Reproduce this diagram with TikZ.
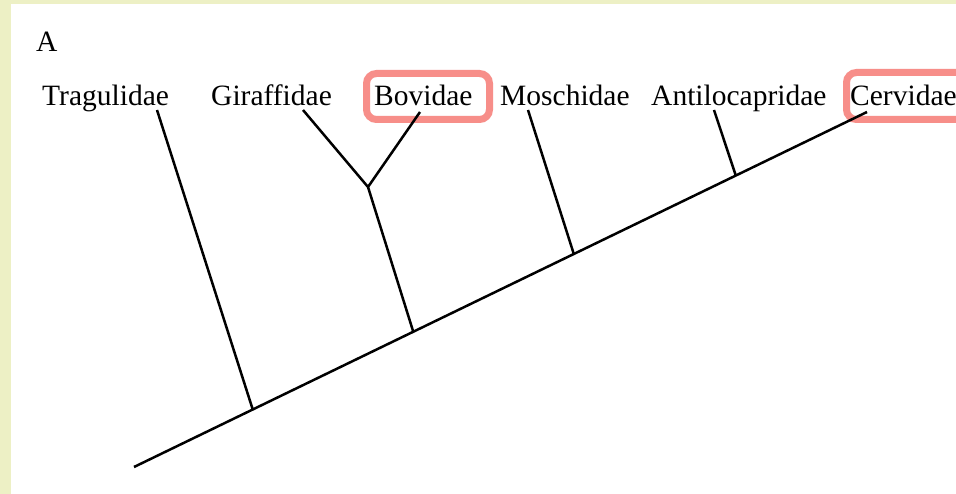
\documentclass[tikz,border=0pt]{standalone}
\usepackage{fontspec}
\setmainfont{Liberation Serif}
\usepackage{xcolor}
\usetikzlibrary{calc}
\definecolor{panelbg}{RGB}{237,240,197}
\definecolor{markred}{RGB}{247,142,137}

\begin{document}
\begin{tikzpicture}[x=1pt,y=-1pt,
  taxon/.style={font=\fontsize{29.5}{32}\selectfont,anchor=base west,inner sep=0pt},
  branch/.style={line width=2.5pt,black},
  hlbox/.style={draw=markred,line width=7pt,rounded corners=10pt}]
  \useasboundingbox (0,0) rectangle (956,494);
  % frame: pale strip on left and top, white panel
  \fill[panelbg] (0,0) rectangle (956,494);
  \fill[white] (11,4) rectangle (960,500);
  \node[taxon] (panel) at (36,52) {A};
  % highlight boxes sit under the tree
  \draw[hlbox] (366.5,73.5) rectangle (489.5,119.5);
  \draw[hlbox] (846.5,72.5) rectangle (990,119.5);
  % taxa: name / label x / tip x / tip y
  \foreach \name/\lx/\tx/\ty in {
    Tragulidae/42/157/110,
    Giraffidae/211/303/110,
    Bovidae/374/420/112,
    Moschidae/500/528/110,
    Antilocapridae/651/714/110,
    Cervidae/850/867/112} {
    \node[taxon] (\name) at (\lx,105.5) {\name};
    \coordinate (\name-tip) at (\tx,\ty);
  }
  % trunk and nodes along it
  \coordinate (root) at (134,467);
  \coordinate (trag) at ($(root)!0.162!(Cervidae-tip)$);
  \coordinate (pecora) at ($(root)!0.381!(Cervidae-tip)$);
  \coordinate (mosch) at ($(root)!0.600!(Cervidae-tip)$);
  \coordinate (antilo) at ($(root)!0.821!(Cervidae-tip)$);
  \coordinate (bovgir) at (368,187);
  \draw[branch] (root) -- (Cervidae-tip);
  \draw[branch] (trag) -- (Tragulidae-tip);
  \draw[branch] (pecora) -- (bovgir);
  \draw[branch] (bovgir) -- (Giraffidae-tip);
  \draw[branch] (bovgir) -- (Bovidae-tip);
  \draw[branch] (mosch) -- (Moschidae-tip);
  \draw[branch] (antilo) -- (Antilocapridae-tip);
\end{tikzpicture}
\end{document}
